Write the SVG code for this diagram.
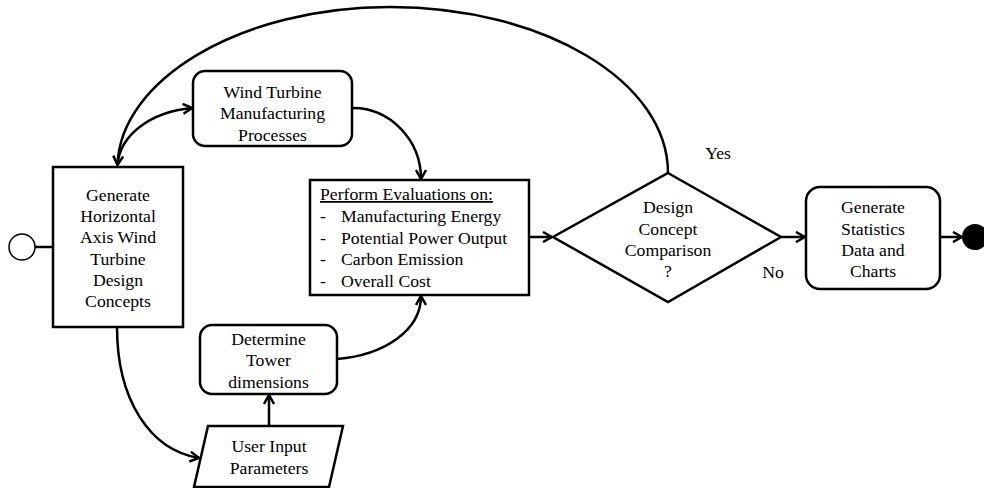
<svg xmlns="http://www.w3.org/2000/svg" width="984" height="488" viewBox="0 0 984 488">
<style>
text{font-family:"Liberation Serif","Times New Roman",serif;font-size:17.7px;fill:#000}
.c{text-anchor:middle}
.box{fill:#fff;stroke:#000;stroke-width:2.5}
.ln{fill:none;stroke:#000;stroke-width:2.5}
</style>
<defs>
<marker id="ah" viewBox="0 0 12 12" refX="11" refY="6" markerWidth="12" markerHeight="12" markerUnits="userSpaceOnUse" orient="auto-start-reverse">
<path d="M2,1 L11,6 L2,11" fill="none" stroke="#000" stroke-width="2.5"/>
</marker>
</defs>
<g id="connectors">
<line class="ln" x1="35" y1="247" x2="53" y2="247"/>
<path class="ln" d="M668,173 C668,81 543,7 390,7 C240,7 120,80 117.5,165"/>
<path class="ln" d="M117.5,165 C120,135 150,112 192,108" marker-start="url(#ah)" marker-end="url(#ah)"/>
<path class="ln" d="M353,108 C390,108 421,140 421,179" marker-end="url(#ah)"/>
<path class="ln" d="M337,359 C385,355 421,330 421,296" marker-end="url(#ah)"/>
<path class="ln" d="M117,327 C117,400 150,450 199,458" marker-end="url(#ah)"/>
<line class="ln" x1="269" y1="426" x2="269" y2="395" marker-end="url(#ah)"/>
<line class="ln" x1="529" y1="237" x2="552" y2="237" marker-end="url(#ah)"/>
<line class="ln" x1="781" y1="237" x2="805" y2="237" marker-end="url(#ah)"/>
<line class="ln" x1="940" y1="237" x2="962" y2="237" marker-end="url(#ah)"/>
</g>
<g id="start"><circle cx="22" cy="247" r="13" fill="#fff" stroke="#000" stroke-width="1.5"/></g>
<g id="generate">
<rect class="box" x="53" y="167" width="130" height="160"/>
<text class="c" x="118" y="201">Generate</text>
<text class="c" x="118" y="222">Horizontal</text>
<text class="c" x="118" y="243">Axis Wind</text>
<text class="c" x="118" y="265">Turbine</text>
<text class="c" x="118" y="286">Design</text>
<text class="c" x="118" y="307">Concepts</text>
</g>
<g id="manufacturing">
<rect class="box" x="193" y="71" width="159" height="75" rx="12"/>
<text class="c" x="272.5" y="98">Wind Turbine</text>
<text class="c" x="272.5" y="119">Manufacturing</text>
<text class="c" x="272.5" y="141">Processes</text>
</g>
<g id="evaluate">
<rect class="box" x="310" y="180" width="219" height="115"/>
<text x="320" y="200" text-decoration="underline">Perform Evaluations on:</text>
<text x="320" y="222">-</text><text x="341" y="222">Manufacturing Energy</text>
<text x="320" y="244">-</text><text x="341" y="244">Potential Power Output</text>
<text x="320" y="265">-</text><text x="341" y="265">Carbon Emission</text>
<text x="320" y="287">-</text><text x="341" y="287">Overall Cost</text>
</g>
<g id="decision">
<polygon class="box" points="668,173 781,237 668,302 553,237"/>
<text class="c" x="668" y="213">Design</text>
<text class="c" x="668" y="235">Concept</text>
<text class="c" x="668" y="256">Comparison</text>
<text class="c" x="668" y="277">?</text>
</g>
<text class="c" x="718" y="159">Yes</text>
<text class="c" x="773" y="278">No</text>
<g id="statistics">
<rect class="box" x="806" y="187" width="134" height="102" rx="14"/>
<text class="c" x="873" y="213">Generate</text>
<text class="c" x="873" y="235">Statistics</text>
<text class="c" x="873" y="256">Data and</text>
<text class="c" x="873" y="277">Charts</text>
</g>
<g id="end"><circle cx="975" cy="237" r="13" fill="#000"/></g>
<g id="tower">
<rect class="box" x="200" y="325" width="137" height="69" rx="12"/>
<text class="c" x="268.5" y="345">Determine</text>
<text class="c" x="268.5" y="366">Tower</text>
<text class="c" x="268.5" y="388">dimensions</text>
</g>
<g id="input">
<polygon class="box" points="208,426 343,426 329,487 194,487"/>
<text class="c" x="269" y="452">User Input</text>
<text class="c" x="269" y="474">Parameters</text>
</g>
</svg>
